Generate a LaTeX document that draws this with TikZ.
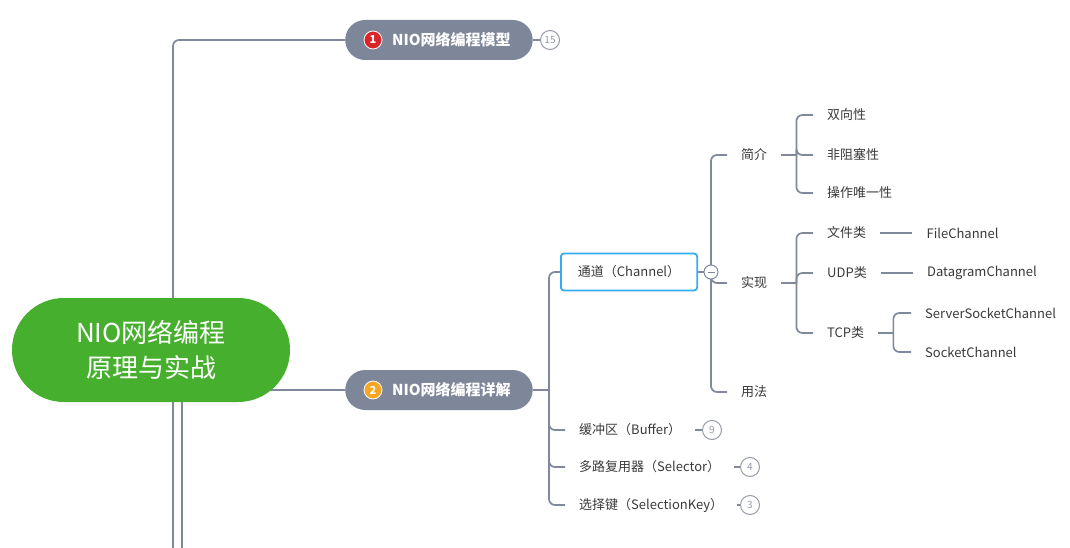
\documentclass[tikz,border=0pt]{standalone}
\usepackage{fontspec}
\setmainfont{Noto Sans CJK SC}
\usetikzlibrary{positioning,backgrounds}
\definecolor{linkgray}{RGB}{128,136,155}
\definecolor{pillgray}{RGB}{126,134,154}
\definecolor{rootgreen}{RGB}{70,176,46}
\definecolor{badgered}{RGB}{216,38,43}
\definecolor{badgeorange}{RGB}{245,166,35}
\definecolor{chanblue}{RGB}{51,173,239}
\definecolor{leaftext}{RGB}{58,58,58}
\definecolor{tallygray}{RGB}{150,155,168}

\begin{document}
\begin{tikzpicture}[
    x=1pt, y=-1pt,
    link/.style={draw=linkgray, line width=1.7pt, rounded corners=6pt},
    rootpill/.style={rectangle, rounded corners=51.9pt, fill=rootgreen,
                     text=white, minimum width=278pt, minimum height=104pt,
                     align=center, font=\fontsize{26}{35}\selectfont},
    topic/.style={rectangle, rounded corners=20pt, fill=pillgray,
                  text=white, minimum height=40pt, inner xsep=22pt,
                  anchor=west, font=\fontsize{15}{18}\selectfont\bfseries},
    badge/.style={circle, draw=white, line width=0.8pt, inner sep=0pt,
                  minimum size=18pt, text=white,
                  font=\fontsize{11}{12}\selectfont\bfseries},
    chanbox/.style={rectangle, rounded corners=3pt, draw=chanblue,
                    line width=1.8pt, fill=white, minimum height=37pt,
                    inner xsep=17pt, anchor=west, text=leaftext,
                    font=\fontsize{13}{16}\selectfont},
    leaf/.style={anchor=west, inner xsep=14pt, inner ysep=2pt,
                 text=leaftext, font=\fontsize{13}{16}\selectfont},
    tally/.style={circle, draw=tallygray, line width=1pt, fill=white,
                  inner sep=0pt, minimum size=19pt, text=tallygray,
                  font=\fontsize{10}{11}\selectfont},
    fold/.style={circle, draw=linkgray, line width=1pt, fill=white,
                 minimum size=14pt, inner sep=0pt,
                 path picture={\draw[linkgray, line width=1pt]
                   ([xshift=-3.5pt]path picture bounding box.center) --
                   ([xshift=3.5pt]path picture bounding box.center);}}
  ]
  \useasboundingbox (0,0) rectangle (1070,548);

  % central topic
  \node[rootpill] (root) at (151,350) {NIO网络编程\\原理与实战};
  \coordinate (off3) at (173,548);
  \coordinate (off4) at (182,548);

  % main topics
  \node[topic] (t1) at (345,40) {\hspace{25pt}NIO网络编程模型};
  \node[badge, fill=badgered] (b1) at ([xshift=28pt]t1.west) {1};
  \node[tally] (n1) at (550,40) {15};

  \node[topic] (t2) at (345,390) {\hspace{25pt}NIO网络编程详解};
  \node[badge, fill=badgeorange] (b2) at ([xshift=28pt]t2.west) {2};
  \coordinate (s2) at (549,390);

  % subtopics of t2
  \node[chanbox] (chan) at (560,272) {通道（Channel）};
  \node[fold] (fold) at (711,272) {};
  \node[leaf] (buf) at (565,430) {缓冲区（Buffer）};
  \node[leaf] (sel) at (565,467) {多路复用器（Selector）};
  \node[leaf] (key) at (565,505) {选择键（SelectionKey）};
  \node[tally] (n2) at (712,430) {9};
  \node[tally] (n3) at (750,467) {4};
  \node[tally] (n4) at (750,505) {3};

  % channel
  \node[leaf] (intro) at (727,155) {简介};
  \node[leaf] (impl) at (727,283) {实现};
  \node[leaf] (usage) at (727,392) {用法};

  \coordinate (s4) at ([xshift=15pt]intro.east);
  \node[leaf] (duplex) at (813,115) {双向性};
  \node[leaf] (nonblock) at (813,155) {非阻塞性};
  \node[leaf] (unique) at (813,193) {操作唯一性};

  \coordinate (s5) at ([xshift=15pt]impl.east);
  \node[leaf] (file) at (813,233) {文件类};
  \node[leaf] (udp) at (813,273) {UDP类};
  \node[leaf] (tcp) at (813,333) {TCP类};
  \node[leaf, right=32pt of file] (fc) {FileChannel};
  \node[leaf, right=32pt of udp] (dc) {DatagramChannel};

  \coordinate (s6) at ([xshift=15pt]tcp.east);
  \node[leaf] (ssc) at (911,313) {ServerSocketChannel};
  \node[leaf] (sc) at (911,352) {SocketChannel};

  \begin{scope}[on background layer]
    \fill[white] (0,0) rectangle (1070,548);
    \draw[link] (off3) |- (t1.west);
    \draw[link] (root.center -| off4) -- (off4);
    \draw[link] (root.center |- t2.west) -- (t2.west);
    \draw[link] (t1.east) -- (n1.west);
    \draw[link] (t2.east) -- (s2);
    \foreach \c in {chan,buf,sel,key}
      \draw[link] (s2) |- (\c.west);
    \draw[link] (buf.east) -- (n2.west);
    \draw[link] (sel.east) -- (n3.west);
    \draw[link] (key.east) -- (n4.west);
    \draw[link] (chan.east) -- (fold.center);
    \foreach \c in {intro,impl,usage}
      \draw[link] (fold.center) |- (\c.west);
    \draw[link] (intro.east) -- (s4);
    \foreach \c in {duplex,nonblock,unique}
      \draw[link] (s4) |- (\c.west);
    \draw[link] (impl.east) -- (s5);
    \foreach \c in {file,udp,tcp}
      \draw[link] (s5) |- (\c.west);
    \draw[link] (file.east) -- (fc.west);
    \draw[link] (udp.east) -- (dc.west);
    \draw[link] (tcp.east) -- (s6);
    \foreach \c in {ssc,sc}
      \draw[link] (s6) |- (\c.west);
  \end{scope}
\end{tikzpicture}
\end{document}
